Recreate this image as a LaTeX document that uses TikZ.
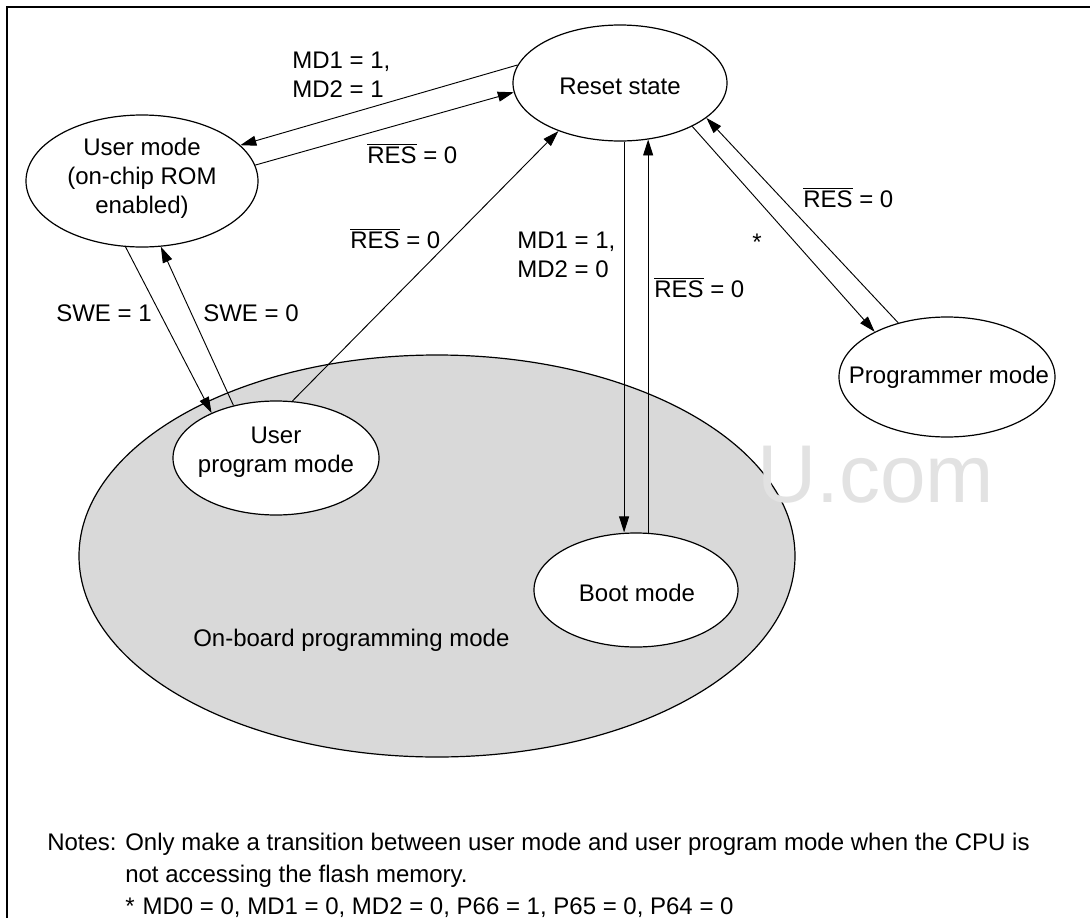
\documentclass[tikz,border=0pt]{standalone}
\usepackage{fontspec}
\setmainfont{Liberation Sans}
\usetikzlibrary{arrows.meta,shapes.geometric}
\definecolor{grayfill}{RGB}{217,217,217}
\definecolor{wmcol}{RGB}{226,226,226}
\newcommand{\ovl}[1]{$\overline{\mbox{#1}}$}
\begin{document}
\begin{tikzpicture}[x=0.75pt,y=-0.75pt,
  txt/.style={font=\fontsize{18pt}{21.75pt}\selectfont, inner sep=0pt},
  lbl/.style={txt, anchor=base west},
  state/.style={ellipse, draw, line width=0.9pt, fill=white, inner sep=0pt},
  arr/.style={line width=0.7pt, -{Triangle[length=12pt,width=7.5pt]}}]
\useasboundingbox (0,0) rectangle (1090,918);
\draw[line width=1.1pt] (1090,7) -- (7,7) -- (7,918);
% on-board programming region
\node[state, fill=grayfill, minimum width=537pt, minimum height=301.5pt] (onboard) at (437,556) {};
\node[txt, anchor=base west, font=\fontsize{61.5pt}{70pt}\selectfont, text=wmcol] (wm) at (757,502) {U.com};
% states
\node[state, minimum width=160.5pt, minimum height=87pt] (reset) at (620,83) {};
\node[state, minimum width=174pt, minimum height=99pt] (user) at (142,181) {};
\node[state, minimum width=154.5pt, minimum height=85.5pt] (userprog) at (276,458) {};
\node[state, minimum width=153pt, minimum height=85.5pt] (boot) at (636,590) {};
\node[state, minimum width=162pt, minimum height=90pt] (prog) at (947,377) {};
% state texts
\node[txt] (resettxt) at (620,86) {Reset state};
\node[txt, align=center] (usertxt) at (142,178) {User mode\\(on-chip ROM\\enabled)};
\node[txt, align=center] (userprogtxt) at (276,452) {User\\program mode};
\node[txt, anchor=base] (boottxt) at (637,601) {Boot mode};
\node[txt, anchor=base] (progtxt) at (949,383) {Programmer mode};
\node[lbl] (onboardtxt) at (193,646) {On-board programming mode};
% transitions
\draw[arr] (reset.170) -- (user.20);
\draw[arr] (user.8) -- (reset.185);
\draw[arr] (userprog.74) -- (reset.218);
\draw[arr] (reset.274) -- (reset.274 |- boot.north);
\draw[arr] (boot.78) -- (boot.78 |- reset.297);
\draw[arr] (reset.329) -- (prog.148);
\draw[arr] (prog.132) -- (reset.338);
\draw[arr] (user.256) -- (userprog.145);
\draw[arr] (userprog.129) -- (user.286);
% labels
\node[lbl] (l1a) at (292,68) {MD1 = 1,};
\node[lbl] (l1b) at (292,97) {MD2 = 1};
\node[lbl] (l2) at (367,163) {\ovl{RES} = 0};
\node[lbl] (l3) at (350,248) {\ovl{RES} = 0};
\node[lbl] (l4a) at (517,248) {MD1 = 1,};
\node[lbl] (l4b) at (517,277) {MD2 = 0};
\node[lbl] (l5) at (654,297) {\ovl{RES} = 0};
\node[txt, anchor=base] (l6) at (757,250) {*};
\node[lbl] (l7) at (803,207) {\ovl{RES} = 0};
\node[lbl] (l8) at (56,321) {SWE = 1};
\node[lbl] (l9) at (203,321) {SWE = 0};
% notes
\node[lbl] (n0) at (47,850) {Notes:};
\node[lbl] (n1) at (125,850) {Only make a transition between user mode and user program mode when the CPU is};
\node[lbl] (n2) at (125,882) {not accessing the flash memory.};
\node[lbl] (n3) at (125,914) {*\hspace{6pt}MD0 = 0, MD1 = 0, MD2 = 0, P66 = 1, P65 = 0, P64 = 0};
\end{tikzpicture}
\end{document}
